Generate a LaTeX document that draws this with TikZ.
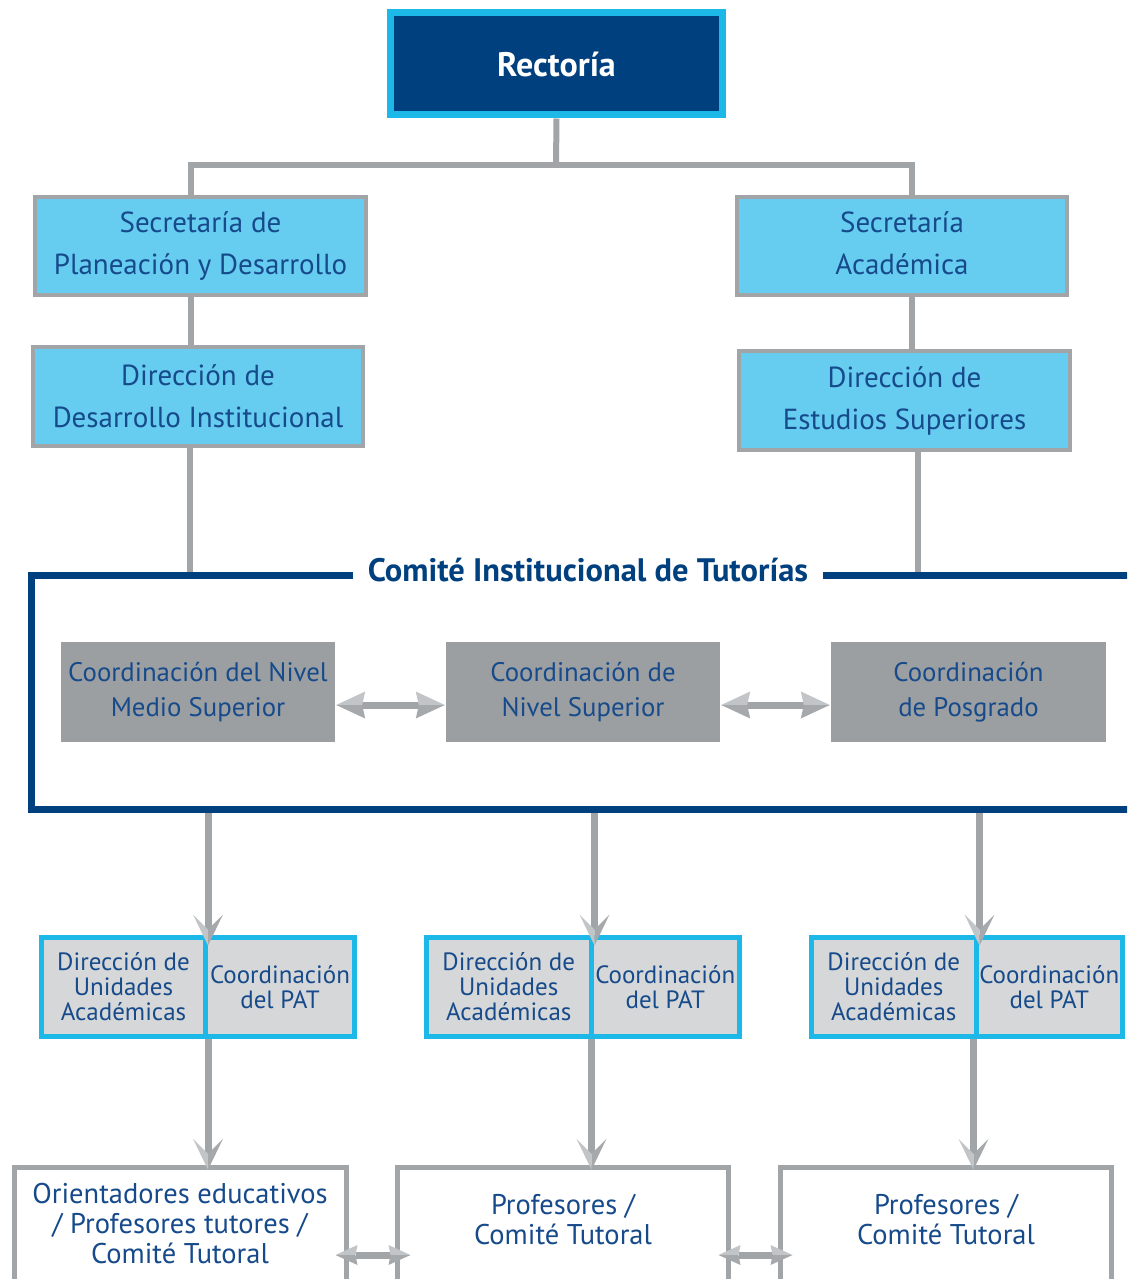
\documentclass[tikz,border=0pt]{standalone}
\usepackage{fontspec}
\setmainfont{PT Sans}
\usetikzlibrary{calc}

\definecolor{navy}{RGB}{0,64,126}
\definecolor{cyanedge}{RGB}{27,184,232}
\definecolor{skyfill}{RGB}{102,204,240}
\definecolor{textblue}{RGB}{22,74,138}
\definecolor{linegrey}{RGB}{162,165,168}
\definecolor{boxgrey}{RGB}{156,159,162}
\definecolor{cellgrey}{RGB}{213,215,216}
\definecolor{headlight}{RGB}{194,197,199}
\definecolor{headdark}{RGB}{166,169,172}

% two-tone arrow heads: #1 tip, #2 length, #3 half width, #4 notch depth
\newcommand\headdown[4]{%
  \fill[headlight] (#1) -- ++(-#3,-#2) -- ++(#3,#4) -- cycle;
  \fill[headdark]  (#1) -- ++(#3,-#2) -- ++(-#3,#4) -- cycle;}
\newcommand\headleft[4]{%
  \fill[headlight] (#1) -- ++(#2,-#3) -- ++(-#4,#3) -- cycle;
  \fill[headdark]  (#1) -- ++(#2,#3) -- ++(-#4,-#3) -- cycle;}
\newcommand\headright[4]{%
  \fill[headlight] (#1) -- ++(-#2,-#3) -- ++(#4,#3) -- cycle;
  \fill[headdark]  (#1) -- ++(-#2,#3) -- ++(#4,-#3) -- cycle;}

\begin{document}
\begin{tikzpicture}[x=1pt,y=-1pt,
  topbox/.style={draw=cyanedge, line width=7pt, fill=navy, text=white,
    font=\bfseries\fontsize{34}{40}\selectfont, inner sep=0pt,
    minimum width=332pt, minimum height=102pt},
  unitbox/.style={draw=linegrey, line width=4pt, fill=skyfill, text=textblue,
    align=center, font=\fontsize{29}{42}\selectfont, inner sep=0pt,
    minimum width=331pt, minimum height=98pt},
  coordbox/.style={fill=boxgrey, text=textblue, align=center,
    font=\fontsize{26.8}{35}\selectfont, inner sep=0pt,
    minimum width=274pt, minimum height=100pt},
  cell/.style={draw=cyanedge, line width=5pt, fill=cellgrey, text=textblue,
    align=center, font=\fontsize{25}{25}\selectfont, inner sep=0pt,
    minimum height=99pt},
  endbox/.style={draw=linegrey, line width=5pt, fill=white, inner sep=0pt,
    minimum width=331pt, minimum height=152pt},
  endtext/.style={text=textblue, align=center, font=\fontsize{28.5}{30}\selectfont},
  titletext/.style={text=navy, font=\bfseries\fontsize{32.5}{36}\selectfont,
    inner xsep=15pt, inner ysep=0pt},
  link/.style={draw=linegrey, line width=6pt},
  shaft/.style={draw=linegrey, line width=7pt},
  frameline/.style={draw=navy, line width=7pt}]

\clip (0,0) rectangle (1127,1279);
\fill[white] (0,0) rectangle (1127,1279);

% upper hierarchy
\node[topbox] (rect) at (556.5,64) {Rectoría};
\node[unitbox] (sec1) at (200.5,246) {Secretaría de\\Planeación y Desarrollo};
\node[unitbox, minimum width=330pt] (sec2) at (902,246) {Secretaría\\Académica\vphantom{y}};
\node[unitbox, minimum width=330pt, minimum height=99pt] (dir1) at (198,396.5) {Dirección de\\Desarrollo Institucional};
\node[unitbox, minimum height=99pt] (dir2) at (904.5,400.5) {Dirección de\\Estudios Superiores};

\coordinate (bar) at (556,165);
\coordinate (ftop) at (0,575.5);
\coordinate (fbot) at (0,809);

\draw[link] (rect.south) -- (bar);
\draw[link] ([xshift=-9.5pt]sec1.north) |- (bar) -| ([xshift=10pt]sec2.north);
\draw[link] ([xshift=-9.5pt]sec1.south) -- ([xshift=-7pt]dir1.north);
\draw[link] ([xshift=10pt]sec2.south) -- ([xshift=7.5pt]dir2.north);
\draw[link] ([xshift=-8pt]dir1.south) -- ([xshift=-8pt]dir1.south |- ftop);
\draw[link] ([xshift=13.5pt]dir2.south) -- ([xshift=13.5pt]dir2.south |- ftop);

% committee
\node[titletext] (title) at (588,570) {Comité Institucional de Tutorías};
\node[coordbox] (g1) at (198,692) {Coordinación del Nivel\\Medio Superior};
\node[coordbox] (g2) at (583,692) {Coordinación de\\Nivel Superior};
\node[coordbox, minimum width=275pt] (g3) at (968.5,692) {Coordinación\\de Posgrado};

\coordinate (ga) at ($(g1.east)+(1,13)$);
\coordinate (gb) at ($(g2.west)+(-1,13)$);
\coordinate (gc) at ($(g2.east)+(1,13)$);
\coordinate (gd) at ($(g3.west)+(-1,13)$);
\draw[shaft] ($(ga)+(26,0)$) -- ($(gb)+(-26,0)$);
\draw[shaft] ($(gc)+(26,0)$) -- ($(gd)+(-26,0)$);
\headleft{ga}{29}{13.5}{3}
\headright{gb}{29}{13.5}{3}
\headleft{gc}{29}{13.5}{3}
\headright{gd}{29}{13.5}{3}

% academic units
\node[cell, minimum width=164pt] (l1) at (123.5,987) {Dirección de\\Unidades\\Académicas};
\node[cell, minimum width=149pt] (l2) at (280,987) {Coordinación\\del PAT};
\node[cell, minimum width=164.5pt] (m1) at (508.75,987) {Dirección de\\Unidades\\Académicas};
\node[cell, minimum width=148.5pt] (m2) at (665.25,987) {Coordinación\\del PAT};
\node[cell, minimum width=164.5pt] (r1) at (893.75,987) {Dirección de\\Unidades\\Académicas};
\node[cell, minimum width=146.5pt] (r2) at (1049.25,987) {Coordinación\\del PAT};

% tutoring staff
\node[endbox, minimum width=332pt] (bl) at (180.5,1243.75) {};
\node[endbox] (bm) at (563,1243.75) {};
\node[endbox] (br) at (946,1243.75) {};
\node[endtext] (blt) at (180,1224) {Orientadores educativos\\/ Profesores tutores /\\Comité Tutoral};
\node[endtext] (bmt) at (563,1220) {Profesores /\\Comité Tutoral};
\node[endtext] (brt) at (946,1220) {Profesores /\\Comité Tutoral};

% arrows from the committee to the units
\coordinate (ta) at ($(l1.north east)+(0,10.5)$);
\coordinate (tb) at ($(m1.north east)+(1,10.5)$);
\coordinate (tc) at ($(r1.north east)+(1,10.5)$);
\draw[shaft] (ta |- fbot) -- ($(ta)+(0,-16)$);
\draw[shaft] (tb |- fbot) -- ($(tb)+(0,-16)$);
\draw[shaft] (tc |- fbot) -- ($(tc)+(0,-16)$);
\headdown{ta}{31}{15}{15}
\headdown{tb}{31}{15}{15}
\headdown{tc}{31}{15}{15}

% arrows from the units to the staff
\coordinate (ua) at ($(l1.south east |- bl.north)+(0,4.5)$);
\coordinate (ub) at ($(m1.south east |- bm.north)+(-2,4.5)$);
\coordinate (uc) at ($(r1.south east |- br.north)+(-5,4.5)$);
\draw[shaft] (l1.south east) -- ($(ua)+(0,-16)$);
\draw[shaft] ([xshift=-2pt]m1.south east) -- ($(ub)+(0,-16)$);
\draw[shaft] ([xshift=-5pt]r1.south east) -- ($(uc)+(0,-16)$);
\headdown{ua}{31}{15}{15}
\headdown{ub}{31}{15}{15}
\headdown{uc}{31}{15}{15}

% links between the staff boxes
\coordinate (by) at (0,1255);
\coordinate (va) at ($(bl.north east |- by)+(-13.5,0)$);
\coordinate (vb) at ($(bm.north west |- by)+(15.5,0)$);
\coordinate (vc) at ($(bm.north east |- by)+(-12.5,0)$);
\coordinate (vd) at ($(br.north west |- by)+(14.5,0)$);
\draw[shaft] ($(va)+(20,0)$) -- ($(vb)+(-20,0)$);
\draw[shaft] ($(vc)+(20,0)$) -- ($(vd)+(-20,0)$);
\headleft{va}{22}{10}{2}
\headright{vb}{22}{10}{2}
\headleft{vc}{22}{10}{2}
\headright{vd}{22}{10}{2}

% committee frame, open on the right
\draw[frameline] (title.west |- ftop) -- (31.5,575.5) -- (31.5,809) -- (1140,809);
\draw[frameline] (title.east |- ftop) -- (1140,575.5);
\end{tikzpicture}
\end{document}
